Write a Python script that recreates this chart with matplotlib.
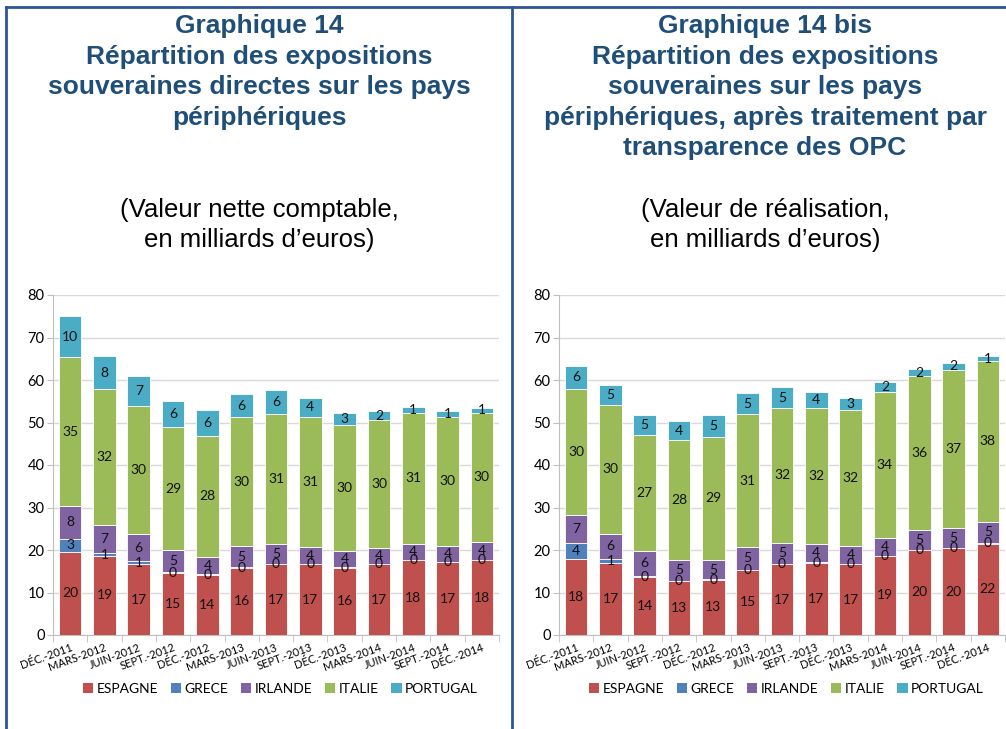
import matplotlib
matplotlib.use("Agg")
import matplotlib.pyplot as plt
from matplotlib.lines import Line2D
from matplotlib.patches import Patch
import numpy as np

# categories
dates = ["DÉC.-2011", "MARS-2012", "JUIN-2012", "SEPT.-2012", "DÉC.-2012",
         "MARS-2013", "JUIN-2013", "SEPT.-2013", "DÉC.-2013", "MARS-2014",
         "JUIN-2014", "SEPT.-2014", "DÉC.-2014"]
countries = ["ESPAGNE", "GRECE", "IRLANDE", "ITALIE", "PORTUGAL"]
colors = ["#C0504D", "#4F81BD", "#8064A2", "#9BBB59", "#4BACC6"]

# Graphique 14 (valeur nette comptable)
es_l = [19.6, 18.6, 16.7, 14.6, 14.1, 15.8, 16.6, 16.6, 15.8, 16.6, 17.6, 17.1, 17.6]
gr_l = [3.0, 0.6, 0.6, 0.2, 0.2, 0.1, 0.1, 0.1, 0.1, 0.1, 0.1, 0.1, 0.1]
ir_l = [7.8, 6.6, 6.4, 5.1, 4.1, 5.0, 4.6, 3.9, 3.8, 3.8, 3.8, 3.8, 4.3]
it_l = [34.9, 32.0, 30.3, 29.1, 28.4, 30.3, 30.8, 30.8, 29.7, 30.0, 30.8, 30.4, 30.2]
pt_l = [9.8, 7.9, 6.9, 6.0, 6.1, 5.6, 5.6, 4.4, 2.9, 2.2, 1.4, 1.4, 1.3]

# Graphique 14 bis (valeur de realisation)
es_r = [17.8, 16.9, 13.6, 12.6, 13.0, 15.3, 16.6, 17.0, 16.7, 18.6, 20.0, 20.4, 21.5]
gr_r = [3.8, 1.1, 0.3, 0.1, 0.1, 0.1, 0.1, 0.1, 0.1, 0.1, 0.1, 0.1, 0.1]
ir_r = [6.6, 5.8, 5.9, 5.0, 4.6, 5.2, 5.0, 4.3, 4.1, 4.2, 4.6, 4.6, 5.1]
it_r = [29.6, 30.4, 27.2, 28.2, 29.0, 31.4, 31.7, 32.1, 32.1, 34.2, 36.2, 37.3, 37.7]
pt_r = [5.6, 4.7, 4.7, 4.4, 5.0, 4.9, 4.9, 3.7, 2.7, 2.4, 1.6, 1.7, 1.3]

title_l = ["Graphique 14", "Répartition des expositions",
           "souveraines directes sur les pays", "périphériques"]
title_r = ["Graphique 14 bis", "Répartition des expositions",
           "souveraines sur les pays", "périphériques, après traitement par",
           "transparence des OPC"]
sub_l = ["(Valeur nette comptable,", "en milliards d\u2019euros)"]
sub_r = ["(Valeur de réalisation,", "en milliards d\u2019euros)"]

W, H = 1006, 729
fig = plt.figure(figsize=(W / 100, H / 100), dpi=100)
navy = "#1F4E79"
chart_font = "Lato"


def draw_chart(ax, series):
    x = np.arange(len(dates))
    bottom = np.zeros(len(dates))
    for vals, col in zip(series, colors):
        vals = np.array(vals)
        ax.bar(x, vals, 0.66, bottom=bottom, color=col, edgecolor="white",
               linewidth=0.6, zorder=3)
        for xi, b, v in zip(x, bottom, vals):
            ax.text(xi, b + v / 2, f"{v:.0f}", ha="center", va="center",
                    fontsize=10, family=chart_font, color="#111111", zorder=4)
        bottom += vals
    ax.set_xlim(-0.5, len(dates) - 0.5)
    ax.set_ylim(0, 80)
    ax.set_yticks(range(0, 81, 10))
    ax.yaxis.grid(True, color="#D9D9D9", linewidth=1)
    ax.set_axisbelow(True)
    for s in ["top", "right"]:
        ax.spines[s].set_visible(False)
    ax.spines["left"].set_color("#BFBFBF")
    ax.spines["bottom"].set_color("#BFBFBF")
    ax.tick_params(axis="y", length=4, color="#BFBFBF", labelsize=10.5, pad=2)
    ax.set_xticks(x)
    ax.set_xticklabels(dates, rotation=20, ha="right", rotation_mode="anchor",
                       fontsize=8, family=chart_font)
    ax.set_xticks(np.arange(-0.5, len(dates)), minor=True)
    ax.tick_params(axis="x", which="major", length=0, pad=5)
    ax.tick_params(axis="x", which="minor", length=5, color="#BFBFBF")
    for lab in ax.get_yticklabels():
        lab.set_family(chart_font)
    handles = [Patch(facecolor=c, label=n) for c, n in zip(colors, countries)]
    ax.legend(handles=handles, loc="upper center", bbox_to_anchor=(0.51, -0.105),
              ncol=5, frameon=False, prop={"family": chart_font, "size": 10},
              handlelength=0.75, handleheight=0.75, handletextpad=0.25,
              columnspacing=0.9)


ax_l = fig.add_axes([53 / W, 1 - 635 / H, 446 / W, 340 / H])
draw_chart(ax_l, [es_l, gr_l, ir_l, it_l, pt_l])
ax_r = fig.add_axes([559 / W, 1 - 635 / H, 446 / W, 340 / H])
draw_chart(ax_r, [es_r, gr_r, ir_r, it_r, pt_r])

# titles
for lines, cx in [(title_l, 259), (title_r, 765)]:
    for i, t in enumerate(lines):
        fig.text(cx / W, 1 - (33 + 30.6 * i) / H, t, ha="center", va="baseline",
                 fontsize=19, fontweight="bold", family="Liberation Sans",
                 color=navy)
for lines, cx in [(sub_l, 259), (sub_r, 765)]:
    for i, t in enumerate(lines):
        fig.text(cx / W, 1 - (217 + 30.5 * i) / H, t, ha="center", va="baseline",
                 fontsize=18.5, family="Liberation Sans", color="black")

# frame lines
border = "#2E5597"
fig.add_artist(Line2D([6 / W, 1], [1 - 7 / H, 1 - 7 / H], transform=fig.transFigure,
                      color=border, linewidth=2))
fig.add_artist(Line2D([6 / W, 6 / W], [0, 1 - 7 / H], transform=fig.transFigure,
                      color=border, linewidth=2))
fig.add_artist(Line2D([512 / W, 512 / W], [0, 1 - 7 / H], transform=fig.transFigure,
                      color=border, linewidth=2))

fig.savefig("out.png", dpi=100)
